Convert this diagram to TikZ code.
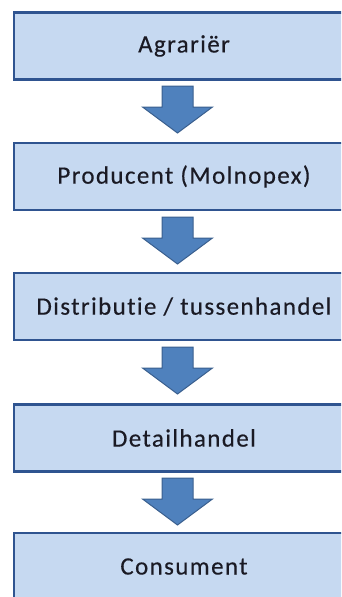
\documentclass[tikz,border=0pt]{standalone}
\usepackage{fontspec}
\setmainfont{Carlito}[LetterSpace=5.5, Ligatures={NoCommon}, FakeBold=0.3]
\definecolor{boxfill}{HTML}{C6D9F1}
\definecolor{boxline}{HTML}{2F5490}
\definecolor{arrfill}{HTML}{4F81BD}
\definecolor{arrline}{HTML}{3A5F8E}
\definecolor{txt}{HTML}{1A1A24}
\begin{document}
\begin{tikzpicture}[x=1pt,y=-1pt,
  stagebox/.style={draw=boxline, fill=boxfill, line width=2.4pt, minimum width=340pt, minimum height=67pt, inner sep=0pt, font=\fontsize{25}{29}\selectfont, text=txt},
  blockarrow/.style={fill=arrfill, draw=arrline, line width=1pt, line join=miter}]
\useasboundingbox (0,0) rectangle (341,597);
\begin{scope}
\clip (0,0) rectangle (341,597);
\node[stagebox] (b1) at (184,46) {Agrariër};
\node[stagebox] (b2) at (184,176.5) {Producent (Molnopex)};
\node[stagebox] (b3) at (184,306.5) {Distributie / tussenhandel};
\node[stagebox] (b4) at (184,438) {Detailhandel};
\node[stagebox] (b5) at (184,566.5) {Consument};
\foreach \t/\n in {86/1,217/2,347/3,478/4}{
  \coordinate (a\n) at (177.5,\t);
  \draw[blockarrow] (a\n) ++(-15.5,0) -- ++(31,0) -- ++(0,21) -- ++(19.5,0) -- ++(-35,26) -- ++(-35,-26) -- ++(19.5,0) -- cycle;
}
\end{scope}
\end{tikzpicture}
\end{document}
